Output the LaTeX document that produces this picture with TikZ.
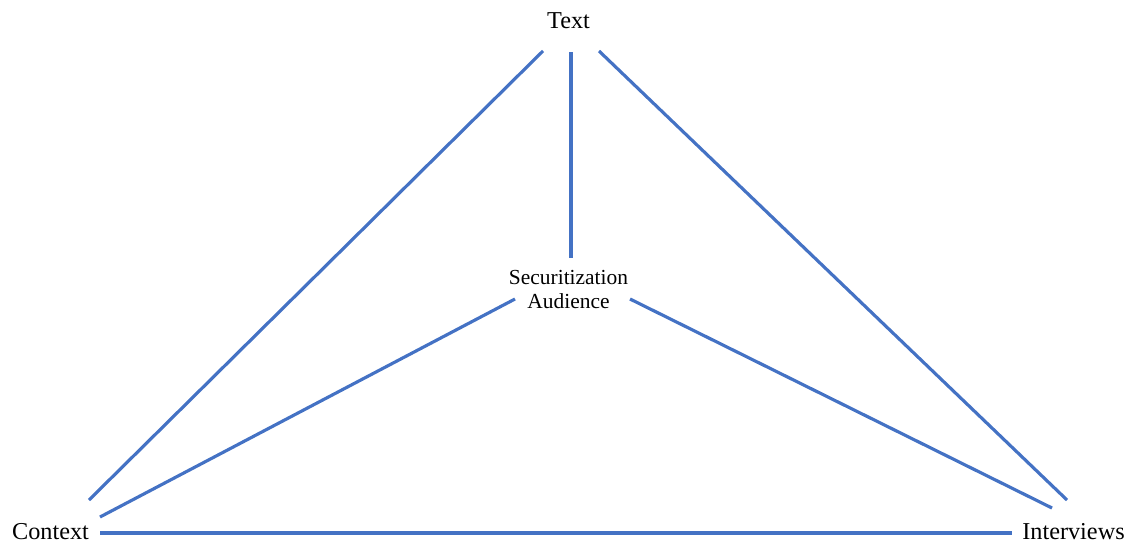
\documentclass[tikz,border=0pt]{standalone}
\usepackage{fontspec}
\setmainfont{Liberation Serif}
\usepackage{tikz}
\usetikzlibrary{positioning, calc}
\definecolor{linkblue}{RGB}{68,114,196}

\begin{document}
\begin{tikzpicture}[
	MyLabel/.style={inner sep=0pt, anchor=base, font=\fontsize{13.8}{14}\selectfont},
	MyCentre/.style={inner sep=0pt, align=center, font=\fontsize{12.2}{13.2}\selectfont},
	MyLink/.style={draw=linkblue, line width=1.8pt}
	]
	
\useasboundingbox (0,0) rectangle (22.72,10.9);

\node [MyLabel] (text) at (11.37,10.34) {Text};
\node [MyCentre] (audience) at (11.37,5.11) {Securitization\\Audience};
\node [MyLabel] (context) at (1.01,0.12) {Context};
\node [MyLabel] (interviews) at (21.47,0.12) {Interviews};

\draw [MyLink] ($(text.base)+(-0.51,-0.46)$) -- ($(context.base)+(0.77,0.78)$);
\draw [MyLink] ($(text.base)+(0.05,-0.48)$) -- ($(audience.center)+(0.05,0.63)$);
\draw [MyLink] ($(text.base)+(0.61,-0.46)$) -- ($(interviews.base)+(-0.13,0.78)$);
\draw [MyLink] ($(audience.center)+(-1.07,-0.19)$) -- ($(context.base)+(0.99,0.44)$);
\draw [MyLink] ($(audience.center)+(1.23,-0.19)$) -- ($(interviews.base)+(-0.43,0.62)$);
\draw [MyLink] ($(context.base)+(0.99,0.12)$) -- ($(interviews.base)+(-1.23,0.12)$);

\end{tikzpicture}
\end{document}
